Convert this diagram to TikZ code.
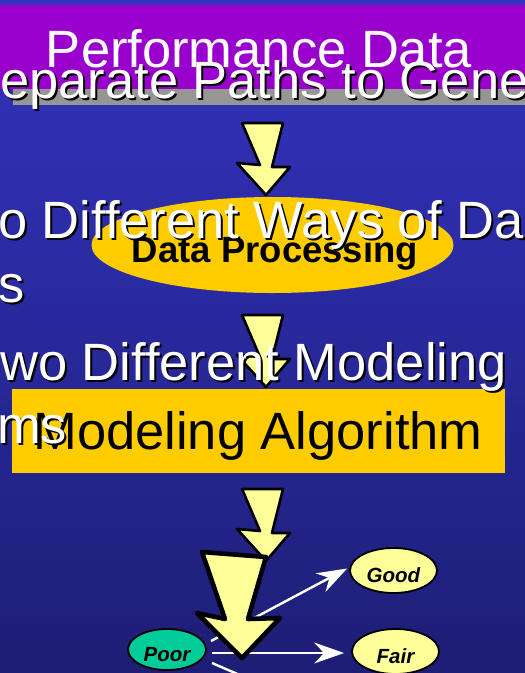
\documentclass[tikz,border=0pt]{standalone}
\usepackage{fontspec}
\setmainfont{Liberation Sans}
\usetikzlibrary{shapes.geometric,arrows.meta,calc}

\definecolor{bgtop}{RGB}{51,51,192}
\definecolor{bgbot}{RGB}{30,30,118}
\definecolor{band}{RGB}{153,0,204}
\definecolor{barfill}{RGB}{150,150,150}
\definecolor{gold}{RGB}{255,204,0}
\definecolor{pale}{RGB}{255,255,153}
\definecolor{mint}{RGB}{0,204,153}

\newcommand\bigfont{\fontsize{52.5}{60}\selectfont}
% white text with a small black drop shadow: #1 name, #2 position, #3 text
\newcommand\shadowed[3]{%
  \node[bigtext, black, anchor=base west] (#1-sh) at ($#2+(2,2)$) {#3};
  \node[bigtext, white, anchor=base west] (#1) at #2 {#3};}

\tikzset{
  bigtext/.style={font=\bigfont, inner sep=0pt},
  downarrow/.pic={
    \draw[fill=pale, line width=2.6pt, line join=round]
      (242,123) -- (260,165) -- (237,163) -- (266,195)
      -- (290,167) -- (272,167) -- (283,123) -- cycle;},
  grade/.style={ellipse, draw=black, line width=1.8pt, inner sep=0pt,
    font=\bfseries\itshape\fontsize{20.5}{22}\selectfont,
    text height=23pt, text depth=0pt},
  link/.style={white, line width=2.4pt,
    -{Stealth[length=30pt,width=21pt,inset=10pt]}},
}

\begin{document}
\begin{tikzpicture}[x=1pt,y=-1pt]
\path[use as bounding box] (0,0) rectangle (525,673);
\begin{scope}
\clip (0,0) rectangle (525,673);

% background and title band
\shade[top color=bgtop, bottom color=bgbot] (0,0) rectangle (525,673);
\fill[band] (0,5) rectangle (525,89);
\fill[barfill] (13,89) rectangle (525,105);

\node[bigtext, white, anchor=base] (title) at (259,67) {Performance Data};
\shadowed{paths}{(0,98)}{eparate Paths to Gene}

% first step
\pic at (0,0) {downarrow};
\node[ellipse, fill=gold, minimum width=362pt, minimum height=96pt,
      inner sep=0pt] (proc) at (272.5,245) {};
\node[font=\bfseries\fontsize{36.5}{40}\selectfont, inner sep=0pt,
      anchor=base] (proclabel) at (275,262) {Data Processing};
\shadowed{waysA}{(-2,238)}{o Different Ways of Da}
\shadowed{waysB}{(-2,302)}{s}

% second step
\pic at (0,192) {downarrow};
\node[fill=gold, minimum width=493pt, minimum height=84pt, inner sep=0pt]
      (algo) at (258.5,431) {};
\node[bigtext, black, anchor=base] (algolabel) at (258,449) {Modeling Algorithm};
\shadowed{modA}{(0,380)}{wo Different Modeling}
\shadowed{modB}{(-3,443)}{ms}

% third step
\pic at (0,366) {downarrow};

% outcome ellipses
\node[grade, fill=mint, minimum width=78pt, minimum height=41pt]
      (poor) at (167,649.5) {Poor};
\node[grade, fill=pale, minimum width=87pt, minimum height=45pt]
      (good) at (393.5,570.5) {Good};
\node[grade, fill=pale, minimum width=87pt, minimum height=45pt]
      (fair) at (395.5,651.5) {Fair};

\coordinate (s1) at (211,641);
\coordinate (s2) at (212,653);
\coordinate (s3) at (212,663);
\coordinate (down) at (330,714);
\draw[link] (s1) -- ($(good.west)+(-2,-2)$);
\draw[link] (s2) -- ($(s2 -| fair.west)+(-7,0)$);
\draw[link] (s3) -- (down);

% large arrow in front
\draw[fill=pale, line width=4.6pt, line join=round]
  (202,552) -- (225,619) -- (197,613) -- (242,658)
  -- (280,618) -- (248,619) -- (266,557) -- cycle;
\end{scope}
\end{tikzpicture}
\end{document}
